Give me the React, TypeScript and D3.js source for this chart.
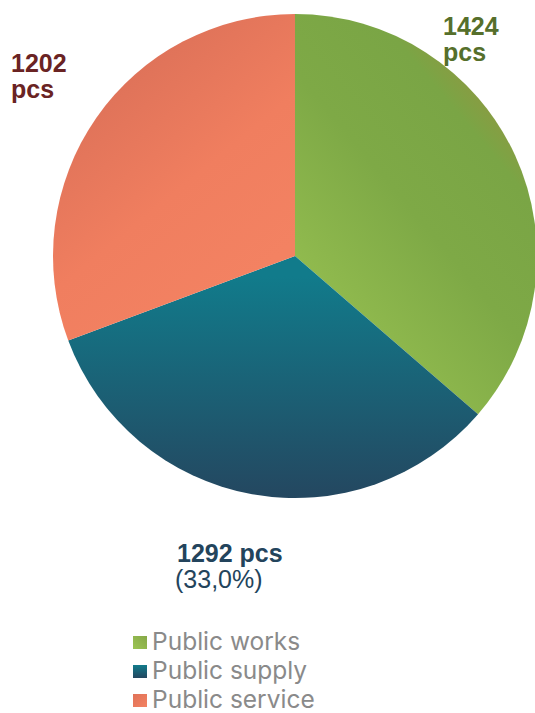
import React from "react";
import * as d3 from "d3";

const categories = ["Public works", "Public supply", "Public service"];
const values = [1424, 1292, 1202];

const W = 535;
const H = 713;
const cx = 295;
const cy = 256;
const R = 242;

export default function App() {
  const pie = d3.pie<number>().sort(null).value((d) => d)(values);
  const arc = d3.arc<d3.PieArcDatum<number>>().innerRadius(0).outerRadius(R);
  const total = d3.sum(values);
  const pct = (v: number) => ((v / total) * 100).toFixed(1).replace(".", ",") + "%";
  const font = "'Liberation Sans', Arial, sans-serif";

  return (
    <svg width={W} height={H} style={{ position: "absolute", left: 0, top: 0 }}>
      <defs>
        <linearGradient id="g0" gradientUnits="userSpaceOnUse" x1={0} y1={120} x2={250} y2={-90}>
          <stop offset="0" stopColor="#9cc553" />
          <stop offset="0.6" stopColor="#7ea946" />
          <stop offset="0.9" stopColor="#7aa545" />
          <stop offset="1" stopColor="#8a9b42" />
        </linearGradient>
        <linearGradient id="g1" gradientUnits="userSpaceOnUse" x1={0} y1={20} x2={0} y2={242}>
          <stop offset="0" stopColor="#117b8b" />
          <stop offset="1" stopColor="#244760" />
        </linearGradient>
        <linearGradient id="g2" gradientUnits="userSpaceOnUse" x1={-210} y1={-210} x2={-30} y2={10}>
          <stop offset="0" stopColor="#d86e57" />
          <stop offset="0.6" stopColor="#f07e5f" />
          <stop offset="1" stopColor="#f38262" />
        </linearGradient>
        <linearGradient id="l0" x1="0" y1="1" x2="1" y2="0">
          <stop offset="0" stopColor="#9cc553" />
          <stop offset="1" stopColor="#86a848" />
        </linearGradient>
        <linearGradient id="l1" x1="0" y1="0" x2="0" y2="1">
          <stop offset="0" stopColor="#117b8b" />
          <stop offset="1" stopColor="#244760" />
        </linearGradient>
        <linearGradient id="l2" x1="0" y1="0" x2="1" y2="1">
          <stop offset="0" stopColor="#e07258" />
          <stop offset="1" stopColor="#f38262" />
        </linearGradient>
      </defs>
      <g transform={`translate(${cx},${cy})`}>
        {pie.map((p, i) => (
          <path key={categories[i]} d={arc(p) as string} fill={`url(#g${i})`} />
        ))}
      </g>
      <g fontFamily={font} fontWeight="bold" fontSize={25}>
        <text x={443} y={35} fill="#566f2b">
          <tspan x={443}>{values[0]}</tspan>
          <tspan x={443} dy={26}>pcs</tspan>
        </text>
        <text x={11} y={72} fill="#6a2323">
          <tspan x={11}>{values[2]}</tspan>
          <tspan x={11} dy={26}>pcs</tspan>
        </text>
        <text x={177} y={562} fill="#23445c">{values[1]} pcs</text>
        <text x={175} y={588} fill="#23445c" fontWeight="normal">({pct(values[1])})</text>
      </g>
      <g fontFamily="Inter, 'Liberation Sans', sans-serif" fontSize={24.5} fill="#8a8a8a">
        {categories.map((c, i) => (
          <g key={c} transform={`translate(133,${636 + i * 29})`}>
            <rect width={14} height={13} fill={`url(#l${i})`} />
            <text x={19} y={14}>{c}</text>
          </g>
        ))}
      </g>
    </svg>
  );
}
